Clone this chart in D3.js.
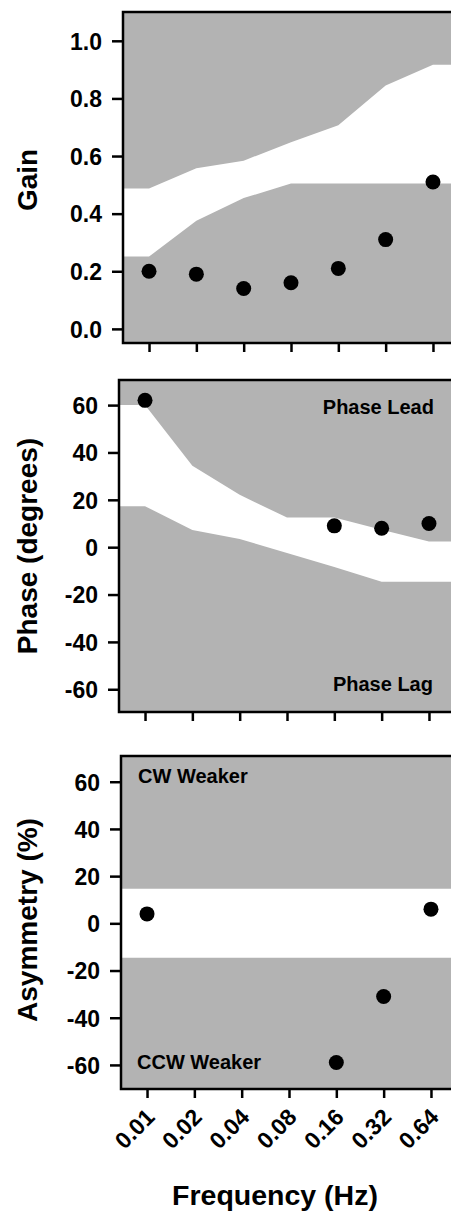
<!DOCTYPE html>
<html>
<head>
<meta charset="utf-8">
<script src="https://cdn.jsdelivr.net/npm/d3@7"></script>
<style>
  body { margin: 0; background: #fff; }
  svg text { font-family: "Liberation Sans", Arial, sans-serif; font-weight: bold; fill: #000; }
</style>
</head>
<body>
<div class="chart"></div>
<script>
/* ---------------------------------------------------- +/

## Data ##

Values

/+ ---------------------------------------------------- */

var freqs = ["0.01", "0.02", "0.04", "0.08", "0.16", "0.32", "0.64"];

var gainValues = [0.20, 0.19, 0.14, 0.16, 0.21, 0.31, 0.51];
var gainUpper = [0.487, 0.558, 0.584, 0.648, 0.707, 0.845, 0.917];
var gainLower = [0.251, 0.375, 0.454, 0.505, 0.505, 0.505, 0.505];
var gainTicks = [0, 0.2, 0.4, 0.6, 0.8, 1.0];

var phaseValues = [62, null, null, null, 9, 8, 10];
var phaseUpper = [60, 34.4, 22.1, 12.5, 12.5, 7.4, 2.4];
var phaseLower = [17.3, 7.3, 3.5, -2.5, -8.4, -14.6, -14.6];
var phaseTicks = [-60, -40, -20, 0, 20, 40, 60];

var asymValues = [4, null, null, null, -59, -31, 6];
var asymUpper = [14.7, 14.7, 14.7, 14.7, 14.7, 14.7, 14.7];
var asymLower = [-14.6, -14.6, -14.6, -14.6, -14.6, -14.6, -14.6];
var asymTicks = [-60, -40, -20, 0, 20, 40, 60];

/**
 * Setup canvas
 */
var width = 451;
var height = 1212;
var svg = d3.select(".chart").append("svg")
    .attr("width", width)
    .attr("height", height);

var gray = "#b3b3b3";

/**
 * Draw one panel: grey background, white band, dots, axes
 */
function drawPanel(p) {
    var x = d3.scalePoint()
        .domain(freqs)
        .range([p.left, p.left + 336])
        .padding(0.55);
    var y = d3.scaleLinear()
        .domain(p.domain)
        .range([p.bottom, p.top]);

    var g = svg.append("g");
    var right = x.range()[1];

    // Grey background
    g.append("rect")
        .attr("x", p.left)
        .attr("y", p.top)
        .attr("width", right - p.left)
        .attr("height", p.bottom - p.top)
        .style("fill", gray);

    // White band, flat past the first and last frequency
    var band = freqs.map(function (f, i) {
        return { x: x(f), lo: p.lower[i], hi: p.upper[i] };
    });
    band.unshift({ x: p.left, lo: p.lower[0], hi: p.upper[0] });
    band.push({ x: right, lo: p.lower[p.lower.length - 1], hi: p.upper[p.upper.length - 1] });

    g.append("path")
        .datum(band)
        .attr("d", d3.area()
            .x(function (d) { return d.x; })
            .y0(function (d) { return y(d.lo); })
            .y1(function (d) { return y(d.hi); }))
        .style("fill", "#fff");

    // Annotations
    (p.notes || []).forEach(function (n) {
        g.append("text")
            .attr("x", n.x(x))
            .attr("y", n.y)
            .attr("text-anchor", n.anchor)
            .style("font-size", "20px")
            .text(n.text);
    });

    // Dots
    var pts = freqs.map(function (f, i) { return { f: f, v: p.values[i] }; })
        .filter(function (d) { return d.v !== null; });
    g.selectAll("circle.dot")
        .data(pts)
        .enter().append("circle")
        .attr("class", "dot")
        .attr("cx", function (d) { return x(d.f); })
        .attr("cy", function (d) { return y(d.v); })
        .attr("r", 7.5)
        .style("fill", "#000");

    // Frame (left, top, bottom; right side runs off the picture)
    g.append("path")
        .attr("d", "M" + (right + 5) + "," + p.top + "H" + p.left + "V" + p.bottom + "H" + (right + 5))
        .style("fill", "none")
        .style("stroke", "#000")
        .style("stroke-width", 2.5);

    // Y axis
    var yAxis = g.append("g")
        .attr("transform", "translate(" + p.left + ",0)")
        .call(d3.axisLeft(y)
            .tickValues(p.ticks)
            .tickSize(11)
            .tickPadding(10)
            .tickFormat(p.fmt));
    yAxis.select(".domain").remove();
    yAxis.selectAll("line").style("stroke-width", 2.5);
    yAxis.selectAll("text")
        .style("font-size", "23px")
        .attr("dy", "0.36em");

    // X axis
    var xAxis = g.append("g")
        .attr("transform", "translate(0," + p.bottom + ")")
        .call(d3.axisBottom(x).tickSize(9).tickFormat(p.showX ? null : ""));
    xAxis.select(".domain").remove();
    xAxis.selectAll("line").style("stroke-width", 2.5);
    if (p.showX) {
        xAxis.selectAll("text")
            .attr("x", null)
            .attr("y", null)
            .attr("dy", "0.71em")
            .attr("text-anchor", "end")
            .attr("transform", "translate(-3,18) rotate(-45)")
            .style("font-size", "23px");
    }

    // Y title
    svg.append("text")
        .attr("transform", "translate(37," + p.titleY + ") rotate(-90)")
        .attr("text-anchor", "middle")
        .style("font-size", "28px")
        .text(p.title);
}

// Plain hyphen for negatives, as in the original figure
var intFmt = function (d) { return String(d); };

drawPanel({
    left: 123, top: 12, bottom: 343,
    domain: [-0.049, 1.1],
    values: gainValues, upper: gainUpper, lower: gainLower,
    ticks: gainTicks, fmt: d3.format(".1f"),
    title: "Gain", titleY: 180
});

drawPanel({
    left: 119, top: 380, bottom: 712,
    domain: [-69.6, 70.6],
    values: phaseValues, upper: phaseUpper, lower: phaseLower,
    ticks: phaseTicks, fmt: intFmt,
    title: "Phase (degrees)", titleY: 546,
    notes: [
        { text: "Phase Lead", x: function (x) { return x("0.64") + 5; }, y: 414, anchor: "end" },
        { text: "Phase Lag", x: function (x) { return x("0.64") + 4; }, y: 691, anchor: "end" }
    ]
});

drawPanel({
    left: 121, top: 756, bottom: 1089,
    domain: [-70.2, 70.9],
    values: asymValues, upper: asymUpper, lower: asymLower,
    ticks: asymTicks, fmt: intFmt,
    title: "Asymmetry (%)", titleY: 920, showX: true,
    notes: [
        { text: "CW Weaker", x: function (x) { return x("0.01") - 9; }, y: 783, anchor: "start" },
        { text: "CCW Weaker", x: function (x) { return x("0.01") - 10; }, y: 1069, anchor: "start" }
    ]
});

// X title
svg.append("text")
    .attr("x", 275)
    .attr("y", 1205)
    .attr("text-anchor", "middle")
    .style("font-size", "28.5px")
    .text("Frequency (Hz)");
</script>
</body>
</html>
